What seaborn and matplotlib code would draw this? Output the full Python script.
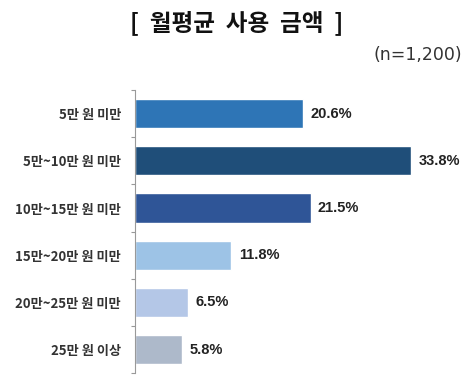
import matplotlib
matplotlib.use("Agg")
import matplotlib.pyplot as plt
import seaborn as sns
import pandas as pd

categories = ["5만 원 미만", "5만~10만 원 미만", "10만~15만 원 미만",
              "15만~20만 원 미만", "20만~25만 원 미만", "25만 원 이상"]
values = [20.6, 33.8, 21.5, 11.8, 6.5, 5.8]
colors = ["#2E75B6", "#1F4E79", "#2F5597", "#9DC3E6", "#B4C7E7", "#ADB9CA"]

sns.set_theme(style="white")
plt.rcParams["font.family"] = ["Noto Sans CJK KR", "DejaVu Sans"]

df = pd.DataFrame({"cat": categories, "val": values})

fig = plt.figure(figsize=(4.73, 3.80), dpi=100)
ax = fig.add_axes([0.285, 0.018, 0.70, 0.745])

sns.barplot(data=df, y="cat", x="val", hue="cat", palette=colors,
            order=categories, hue_order=categories, width=0.62,
            saturation=1, legend=False, ax=ax, orient="h")

for i, v in enumerate(values):
    ax.text(v + 0.9, i, f"{v}%", va="center", ha="left",
            fontsize=10.5, fontweight="bold", color="#222222",
            family=["Liberation Sans"])

ax.set_xlim(0, 40.5)
ax.set_ylim(5.5, -0.5)
ax.set_xlabel("")
ax.set_ylabel("")
ax.set_xticks([])
ax.set_yticks(range(len(categories)))
ax.set_yticklabels(categories, fontsize=9.5, fontweight="bold", color="#333333")
ax.set_yticks([i - 0.5 for i in range(len(categories) + 1)], minor=True)
ax.tick_params(axis="y", which="major", length=0, pad=10)
ax.tick_params(axis="y", which="minor", length=3, color="#999999", width=0.8, left=True)
for s in ["top", "right", "bottom"]:
    ax.spines[s].set_visible(False)
ax.spines["left"].set_color("#999999")
ax.spines["left"].set_linewidth(0.8)

fig.text(0.5, 0.94, "[  월평균  사용  금액  ]", ha="center", va="center",
         fontsize=17, fontweight="bold", color="#111111")
fig.text(0.977, 0.855, "(n=1,200)", ha="right", va="center",
         fontsize=12.5, color="#333333", family=["DejaVu Sans"])

fig.savefig("out.png", dpi=100)
